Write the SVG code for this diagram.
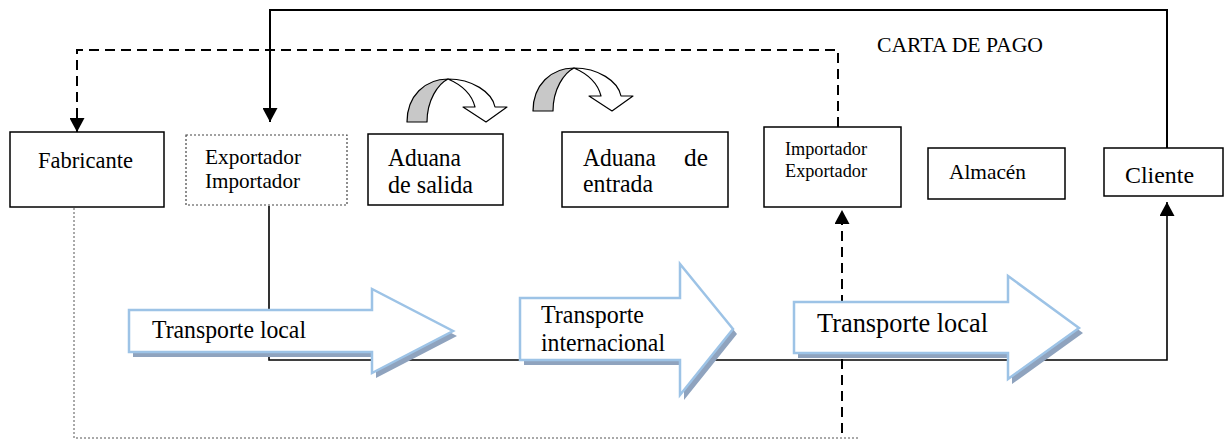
<svg xmlns="http://www.w3.org/2000/svg" width="1230" height="441" viewBox="0 0 1230 441">
<style>
  text { font-family: "Liberation Serif", "Times New Roman", serif; fill: #000; }
  .box { fill: #fff; stroke: #000; stroke-width: 1.5; }
  .dotbox { fill: #fff; stroke: #444; stroke-width: 1.2; stroke-dasharray: 2 2; }
  .solid { fill: none; stroke: #000; stroke-width: 2; }
  .dash { fill: none; stroke: #000; stroke-width: 2; stroke-dasharray: 10 6; }
  .dotted { fill: none; stroke: #555; stroke-width: 1; stroke-dasharray: 2 2; }
  .thin { fill: none; stroke: #000; stroke-width: 1.6; }
  .barrow { fill: #fff; stroke: #9DC3E6; stroke-width: 2.5; }
  .shadow { fill: #8FA3BE; }
  .cback { fill: #C8C8C8; stroke: #000; stroke-width: 1.2; stroke-linejoin: round; }
  .cfront { fill: #fff; stroke: #000; stroke-width: 1.2; stroke-linejoin: round; }
</style>
<defs>
  <marker id="ah" markerUnits="userSpaceOnUse" markerWidth="15" markerHeight="15" refX="14" refY="7.5" orient="auto">
    <path d="M0,0 L14,7.5 L0,15 Z" fill="#000" stroke="none"/>
  </marker>
  <g id="curved">
    <path class="cback" d="M407,122 C407,96 425,79 448,79 C438,84 427,100 427,122 Z"/>
    <path class="cfront" d="M448,79 C472,79 492,92 495,107 L507,107 L486,122 L463,107 L475,107 C472,95 462,85 448,79 Z"/>
  </g>
</defs>

<g id="connectors">
  <path class="dotted" d="M74,208 V438 H858"/>
  <path class="dash" d="M838,127 V50 H77 V132" marker-end="url(#ah)"/>
  <path class="solid" d="M1167,148 V10 H270 V122" marker-end="url(#ah)"/>
  <path class="thin" d="M269,206 V360 H1167 V202" marker-end="url(#ah)"/>
  <path class="dash" d="M842,433 V210" marker-end="url(#ah)"/>
</g>

<g id="curved-arrows">
  <use href="#curved"/>
  <use href="#curved" transform="translate(126,-11)"/>
</g>

<g id="fabricante">
  <rect class="box" x="10" y="132" width="154" height="75"/>
  <text x="38" y="168" font-size="23.5" textLength="95" lengthAdjust="spacingAndGlyphs">Fabricante</text>
</g>

<g id="exportador-importador">
  <rect class="dotbox" x="186" y="135" width="161" height="70"/>
  <text x="205" y="164" font-size="21.5" textLength="96" lengthAdjust="spacingAndGlyphs">Exportador</text>
  <text x="205" y="188" font-size="21.5" textLength="95" lengthAdjust="spacingAndGlyphs">Importador</text>
</g>

<g id="aduana-salida">
  <rect class="box" x="368" y="134" width="135" height="71"/>
  <text x="388" y="166" font-size="25" textLength="73" lengthAdjust="spacingAndGlyphs">Aduana</text>
  <text x="388" y="193" font-size="25" textLength="85" lengthAdjust="spacingAndGlyphs">de salida</text>
</g>

<g id="aduana-entrada">
  <rect class="box" x="562" y="132" width="166" height="75"/>
  <text x="583" y="166" font-size="25" textLength="73" lengthAdjust="spacingAndGlyphs">Aduana</text>
  <text x="684" y="166" font-size="25" textLength="24" lengthAdjust="spacingAndGlyphs">de</text>
  <text x="583" y="192" font-size="25" textLength="70" lengthAdjust="spacingAndGlyphs">entrada</text>
</g>

<g id="importador-exportador">
  <rect class="box" x="764" y="127" width="137" height="80"/>
  <text x="785" y="155" font-size="19.5" textLength="82" lengthAdjust="spacingAndGlyphs">Importador</text>
  <text x="785" y="177" font-size="19.5" textLength="82" lengthAdjust="spacingAndGlyphs">Exportador</text>
</g>

<g id="almacen">
  <rect class="box" x="928" y="148" width="137" height="51"/>
  <text x="949" y="179" font-size="22" textLength="77" lengthAdjust="spacingAndGlyphs">Almacén</text>
</g>

<g id="cliente">
  <rect class="box" x="1104" y="148" width="119" height="48"/>
  <text x="1125" y="183" font-size="24" textLength="69" lengthAdjust="spacingAndGlyphs">Cliente</text>
</g>

<g id="carta-de-pago">
  <text x="877" y="52" font-size="22" textLength="166" lengthAdjust="spacingAndGlyphs">CARTA DE PAGO</text>
</g>

<g id="transporte-local-1">
  <polygon class="shadow" points="133,315 376,315 376,294 457,336 376,378 376,357 133,357"/>
  <polygon class="barrow" points="129,310 372,310 372,289 453,331 372,373 372,352 129,352"/>
  <text x="152" y="338" font-size="25" textLength="154" lengthAdjust="spacingAndGlyphs">Transporte local</text>
</g>

<g id="transporte-internacional">
  <polygon class="shadow" points="524,303 684,303 684,269 737,334 684,400 684,365 524,365"/>
  <polygon class="barrow" points="520,298 680,298 680,264 733,329 680,395 680,360 520,360"/>
  <text x="541" y="323" font-size="25.5" textLength="103" lengthAdjust="spacingAndGlyphs">Transporte</text>
  <text x="541" y="351" font-size="25.5" textLength="124" lengthAdjust="spacingAndGlyphs">internacional</text>
</g>

<g id="transporte-local-2">
  <polygon class="shadow" points="798,307 1012,307 1012,281 1083,333 1012,384 1012,358 798,358"/>
  <polygon class="barrow" points="794,302 1008,302 1008,276 1079,328 1008,379 1008,353 794,353"/>
  <text x="817" y="332" font-size="27.5" textLength="171" lengthAdjust="spacingAndGlyphs">Transporte local</text>
</g>
</svg>
